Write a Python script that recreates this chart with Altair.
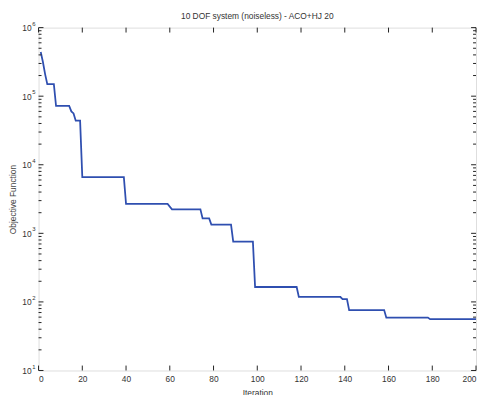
import altair as alt
import pandas as pd

# Step trace of best objective value vs iteration (vertices)
iters = [1, 2, 3, 4, 7, 8, 14, 15, 16, 17, 19, 20, 39, 40, 59, 61, 74, 75, 78, 79,
         88, 89, 98, 99, 118, 119, 138, 139, 141, 142, 158, 159, 178, 179, 200]
values = [4.4e5, 3.15e5, 2.1e5, 1.5e5, 1.5e5, 7.2e4, 7.2e4, 6.0e4, 5.6e4, 4.4e4,
          4.4e4, 6.6e3, 6.6e3, 2.68e3, 2.68e3, 2.24e3, 2.24e3, 1.65e3, 1.65e3, 1.34e3,
          1.34e3, 755, 755, 165, 165, 118, 118, 110, 110, 76, 76, 59, 59, 56, 56]

x_ticks = [0, 20, 40, 60, 80, 100, 120, 140, 160, 180, 200]
y_major = [10, 100, 1000, 10000, 100000, 1000000]
y_exponents = ["1", "2", "3", "4", "5", "6"]
y_minor = [m * 10 ** k for k in range(1, 6) for m in range(2, 10)]

W, H = 444, 348
FONT = "Liberation Sans"
TXT = "#333333"
LINE = "#2f4fb0"

xscale = alt.Scale(domain=[0, 200], nice=False, zero=False)
yscale = alt.Scale(type="log", domain=[10, 1e6], nice=False)

xaxis = alt.Axis(values=x_ticks, ticks=False, domain=False, grid=False,
                 labelPadding=4, labelFontSize=8.5, labelColor=TXT,
                 labelFont=FONT, title="Iteration", titleFontSize=8.5,
                 titleFont=FONT, titleFontWeight="normal", titleColor=TXT,
                 titlePadding=6)
yaxis = alt.Axis(values=y_major, labelExpr="'10'", ticks=False, domain=False,
                 grid=False, labelPadding=7.5, labelFontSize=8.5,
                 labelColor=TXT, labelFont=FONT, title="Objective Function",
                 titleFontSize=8.5, titleFont=FONT, titleFontWeight="normal",
                 titleColor="#444444", titlePadding=4)

df = pd.DataFrame({"iter": iters, "value": values})
df_xt = pd.DataFrame({"t": x_ticks})
df_ymaj = pd.DataFrame({"v": y_major, "e": y_exponents})
df_ymin = pd.DataFrame({"v": y_minor})

line = alt.Chart(df).mark_line(color=LINE, strokeWidth=1.8, clip=True).encode(
    x=alt.X("iter:Q", scale=xscale, axis=xaxis),
    y=alt.Y("value:Q", scale=yscale, axis=yaxis),
)

TICKC = "#222222"
# inward ticks (MATLAB style)
xt_bottom = alt.Chart(df_xt).mark_rule(color=TICKC, strokeWidth=1).encode(
    x=alt.X("t:Q", scale=xscale, axis=xaxis), y=alt.value(H), y2=alt.value(H - 5))
xt_top = alt.Chart(df_xt).mark_rule(color=TICKC, strokeWidth=1).encode(
    x=alt.X("t:Q", scale=xscale, axis=xaxis), y=alt.value(0), y2=alt.value(5))
ymaj_left = alt.Chart(df_ymaj).mark_rule(color=TICKC, strokeWidth=1).encode(
    y=alt.Y("v:Q", scale=yscale, axis=yaxis), x=alt.value(0), x2=alt.value(5))
ymaj_right = alt.Chart(df_ymaj).mark_rule(color=TICKC, strokeWidth=1).encode(
    y=alt.Y("v:Q", scale=yscale, axis=yaxis), x=alt.value(W), x2=alt.value(W - 5))
ymin_left = alt.Chart(df_ymin).mark_rule(color=TICKC, strokeWidth=1).encode(
    y=alt.Y("v:Q", scale=yscale, axis=yaxis), x=alt.value(0), x2=alt.value(3))
ymin_right = alt.Chart(df_ymin).mark_rule(color=TICKC, strokeWidth=1).encode(
    y=alt.Y("v:Q", scale=yscale, axis=yaxis), x=alt.value(W), x2=alt.value(W - 3))

# superscript exponents of the 10^k labels
expo = alt.Chart(df_ymaj).mark_text(align="left", baseline="middle", dy=-4,
                                    fontSize=6, font=FONT, color=TXT).encode(
    y=alt.Y("v:Q", scale=yscale, axis=yaxis), x=alt.value(-6.5), text="e:N")

chart = alt.layer(line, xt_bottom, xt_top, ymaj_left, ymaj_right, ymin_left,
                  ymin_right, expo).properties(
    width=W, height=H,
    title=alt.TitleParams("10 DOF system (noiseless) - ACO+HJ 20", fontSize=8.5,
                          font=FONT, fontWeight="normal", color=TXT, anchor="middle",
                          offset=0),
    autosize=alt.AutoSizeParams(type="none"),
    padding={"left": 31, "top": 17, "right": 1, "bottom": 24},
).configure_view(stroke=TICKC, strokeWidth=1).configure(background="white")

chart.save("out.html", embed_options={"renderer": "svg", "actions": False})
